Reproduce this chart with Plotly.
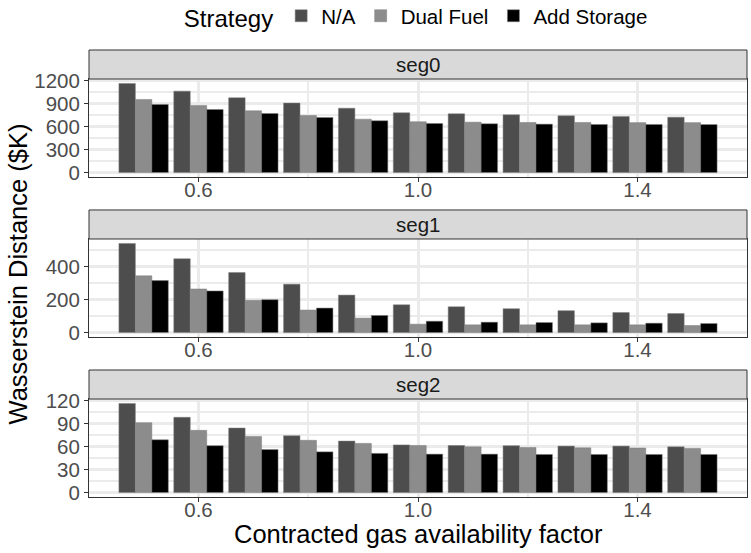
import plotly.graph_objects as go

# Contracted gas availability factor (x positions of the bar groups)
factors = [0.5, 0.6, 0.7, 0.8, 0.9, 1.0, 1.1, 1.2, 1.3, 1.4, 1.5]

strategies = ["N/A", "Dual Fuel", "Add Storage"]
colors = {"N/A": "#4D4D4D", "Dual Fuel": "#8C8C8C", "Add Storage": "#000000"}

# Wasserstein distance ($K) by segment and strategy
seg0_na = [1160, 1060, 974, 904, 838, 778, 765, 752, 739, 730, 721]
seg0_dual = [952, 873, 804, 743, 695, 661, 656, 652, 652, 650, 650]
seg0_storage = [887, 821, 769, 717, 674, 639, 635, 630, 626, 626, 625]

seg1_na = [542, 449, 365, 294, 228, 169, 157, 145, 133, 122, 116]
seg1_dual = [345, 265, 196, 137, 88, 51, 47, 47, 47, 47, 43]
seg1_storage = [316, 253, 200, 149, 104, 69, 63, 61, 59, 57, 55]

seg2_na = [116, 98, 84, 74, 67, 62, 61.3, 61, 60.5, 60.5, 59.6]
seg2_dual = [91, 81, 73, 68, 64, 61.3, 59.6, 58.7, 58.3, 58, 57.5]
seg2_storage = [68.7, 61, 56, 53, 51, 50, 50, 49.6, 49.6, 49.6, 49.6]

segments = ["seg0", "seg1", "seg2"]
seg_values = {
    "seg0": {"N/A": seg0_na, "Dual Fuel": seg0_dual, "Add Storage": seg0_storage},
    "seg1": {"N/A": seg1_na, "Dual Fuel": seg1_dual, "Add Storage": seg1_storage},
    "seg2": {"N/A": seg2_na, "Dual Fuel": seg2_dual, "Add Storage": seg2_storage},
}
y_ticks = {
    "seg0": [0, 300, 600, 900, 1200],
    "seg1": [0, 200, 400],
    "seg2": [0, 30, 60, 90, 120],
}
x_ticks = [0.6, 1.0, 1.4]
x_tick_text = ["0.6", "1.0", "1.4"]

FONT = "Liberation Sans, Arial, sans-serif"
BORDER = "#333333"
GRID = "#EBEBEB"

# Panel and strip domains (paper coordinates), top to bottom
panel_domains = [(0.7159, 0.9351), (0.3579, 0.5772), (0.0, 0.2192)]
strip_h = 0.0649

fig = go.Figure()
layout_axes = {}
shapes = []
annotations = []

for i, seg in enumerate(segments):
    idx = "" if i == 0 else str(i + 1)
    xa, ya = "x" + idx, "y" + idx
    for s in strategies:
        fig.add_trace(go.Bar(
            x=factors, y=seg_values[seg][s], name=s,
            marker=dict(color=colors[s], line=dict(color="#7F7F7F", width=0.5)),
            xaxis=xa, yaxis=ya, showlegend=(i == 0), legendgroup=s,
        ))
    vmax = max(max(v) for v in seg_values[seg].values())
    pad = vmax * 0.05
    step = y_ticks[seg][1] - y_ticks[seg][0]
    d0, d1 = panel_domains[i]
    layout_axes["xaxis" + idx] = dict(
        domain=[0, 1], anchor=ya, range=[0.4005, 1.5995],
        tickmode="array", tickvals=x_ticks, ticktext=x_tick_text,
        ticks="outside", ticklen=4, tickcolor=BORDER, tickwidth=1,
        ticklabelstandoff=-10,
        tickfont=dict(size=20.5, color="#4D4D4D", family=FONT),
        showgrid=True, gridcolor=GRID, gridwidth=3,
        minor=dict(tickvals=[0.4, 0.8, 1.2], showgrid=True, gridcolor=GRID,
                   gridwidth=1.5, ticklen=0),
        showline=True, linecolor=BORDER, linewidth=1, mirror=True,
        zeroline=False,
    )
    layout_axes["yaxis" + idx] = dict(
        domain=[d0, d1], anchor=xa, range=[-pad, vmax + pad],
        tickmode="array", tickvals=y_ticks[seg],
        ticks="outside", ticklen=4, tickcolor=BORDER, tickwidth=1,
        tickfont=dict(size=20.5, color="#4D4D4D", family=FONT),
        showgrid=True, gridcolor=GRID, gridwidth=3,
        minor=dict(dtick=step / 2, tick0=step / 2, showgrid=True,
                   gridcolor=GRID, gridwidth=1.5, ticklen=0),
        showline=True, linecolor=BORDER, linewidth=1, mirror=True,
        zeroline=False,
    )
    # facet strip
    shapes.append(dict(type="rect", xref="paper", yref="paper",
                       x0=0, x1=1, y0=d1, y1=d1 + strip_h,
                       fillcolor="#D9D9D9", line=dict(color=BORDER, width=1)))
    annotations.append(dict(text=seg, xref="paper", yref="paper",
                            x=0.5, y=d1 + strip_h / 2, showarrow=False,
                            xanchor="center", yanchor="middle",
                            font=dict(size=20.5, color="#1A1A1A", family=FONT)))

annotations.append(dict(text="Contracted gas availability factor",
                        xref="paper", yref="paper", x=0.5, y=-0.083,
                        showarrow=False, xanchor="center", yanchor="middle",
                        font=dict(size=25.5, color="#000000", family=FONT)))
annotations.append(dict(text="Wasserstein Distance ($K)",
                        xref="paper", yref="paper", x=-0.108, y=0.5,
                        textangle=-90, showarrow=False,
                        xanchor="center", yanchor="middle",
                        font=dict(size=25.5, color="#000000", family=FONT)))

fig.update_layout(
    width=751, height=553,
    margin=dict(l=89, r=4, t=50, b=56, autoexpand=False),
    paper_bgcolor="white", plot_bgcolor="white",
    barmode="group", bargap=0.1, bargroupgap=0,
    font=dict(family=FONT, color="#000000"),
    legend=dict(orientation="h", x=0.141, y=1.074, xanchor="left",
                yanchor="middle",
                title=dict(text="Strategy", side="left",
                           font=dict(size=24, family=FONT)),
                font=dict(size=20.5, family=FONT), traceorder="normal"),
    shapes=shapes, annotations=annotations,
    **layout_axes,
)

fig.write_html("out.html")
